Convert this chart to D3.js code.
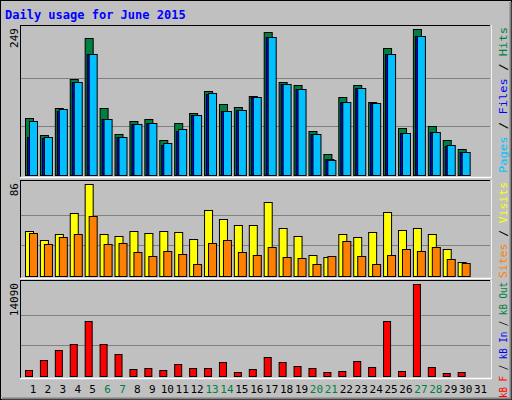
<!DOCTYPE html><html><head><script src="https://cdn.jsdelivr.net/npm/d3@7"></script>
<style>body{margin:0;background:#fff}text{font-family:"DejaVu Sans Mono",monospace}</style></head><body>
<svg id="c" width="512" height="400"></svg>
<script>
const days=d3.range(1,32);
const weekend=[6,7,13,14,20,21,27,28];
const hits=[97,68,115,163,234,115,70,92,95,59,88,106,144,121,116,135,244,159,154,75,35,133,153,125,216,80,249,83,59,44,0];
const files=[65,63,109,158,207,95,64,87,88,52,75,103,138,110,111,133,235,156,146,70,27,125,149,123,206,72,237,73,50,40,0];
const pages=[92,64,113,159,207,95,64,87,88,54,78,103,140,110,111,133,235,156,146,70,25,125,149,123,206,72,237,73,52,40,0];
const visits=[42,34,39,59,86,39,37,42,40,42,41,35,62,53,48,48,69,45,37,20,18,39,36,41,60,43,45,39,25,13,0];
const sites=[40,30,36,39,56,30,31,22,19,23,21,11,31,34,22,20,27,18,17,11,19,33,19,11,20,25,23,27,16,12,0];
const kbytes=[977,2520,3908,4834,8382,4834,3445,1131,1286,977,1903,1286,1286,2211,668,1131,2982,2211,1594,1286,668,823,2365,1440,8382,823,14090,1440,514,668,0];

const svg=d3.select("#c");
svg.append("rect").attr("x",0.5).attr("y",0.5).attr("width",511).attr("height",399).attr("fill","#c0c0c0").attr("stroke","#000");
svg.append("path").attr("d","M510.5,2V398.5H2").attr("fill","none").attr("stroke","#808080").attr("stroke-width",2);
svg.append("text").attr("x",5).attr("y",19).text("Daily usage for June 2015").attr("fill","#0000ff").attr("font-weight","bold").attr("font-size",12);

const x=d3.scaleBand().domain(days).range([20,482.5]);
const panels=[
 {top:25,bot:177,max:249,label:"249",series:[[hits,"#008040",0],[files,"#0000ff",2],[pages,"#00c0ff",4]],w:8,len:146,
  legend:[["Pages","#00c0ff"],[" / ","#000"],["Files","#0000ff"],[" / ","#000"],["Hits","#008040"]]},
 {top:180,bot:278,max:86,label:"86",series:[[visits,"#ffff00",0],[sites,"#ff8000",4]],w:8,len:96,
  legend:[["Sites","#ff8000"],[" / ","#000"],["Visits","#ffff00"]]},
 {top:280,bot:378,max:14090,label:"14090",series:[[kbytes,"#ff0000",0]],w:7,len:116,
  legend:[["kB F","#ff0000"],[" / ","#000"],["kB In","#0000ff"],[" / ","#000"],["kB Out","#008040"]]}
];
panels.forEach(p=>{
  svg.append("rect").attr("x",20.5).attr("y",p.top+0.5).attr("width",470).attr("height",p.bot-p.top).attr("fill","#c0c0c0").attr("stroke","#000");
  svg.append("path").attr("d",`M491,${p.top}V${p.bot+0.5}H20`).attr("fill","none").attr("stroke","#fff").attr("stroke-width",1.5);
  const y=d3.scaleLinear().domain([0,p.max]).range([p.bot-2,p.top+4]);
  [1/3,2/3].forEach(f=>{const gy=Math.round(p.bot-2-(p.bot-p.top-6)*f)+0.5;
    svg.append("line").attr("x1",21).attr("x2",490).attr("y1",gy).attr("y2",gy).attr("stroke","#808080");});
  p.series.forEach(([vals,col,off])=>{
    svg.append("g").selectAll("rect").data(days.filter((d,i)=>vals[i]>0)).join("rect")
     .attr("x",d=>x(d)+5.5+off).attr("width",p.w).attr("y",d=>Math.round(y(vals[d-1]))+0.5)
     .attr("height",d=>p.bot-2-Math.round(y(vals[d-1]))).attr("fill",col).attr("stroke","#000");
  });
  svg.append("text").attr("transform",`translate(18,${p.top+3}) rotate(-90)`).attr("text-anchor","end").attr("font-size",11).text(p.label);
  const t=svg.append("text").attr("transform",`translate(507,${p.top+2}) rotate(-90)`).attr("text-anchor","end")
   .attr("font-size",11).attr("textLength",p.len).attr("lengthAdjust","spacingAndGlyphs");
  p.legend.forEach(([s,c])=>t.append("tspan").attr("fill",c).text(s));
});
svg.append("g").selectAll("text").data(days).join("text").attr("x",d=>x(d)+13).attr("y",393)
 .attr("text-anchor","middle").attr("font-size",11).attr("fill",d=>weekend.includes(d)?"#008040":"#000").text(d=>d);
</script></body></html>
